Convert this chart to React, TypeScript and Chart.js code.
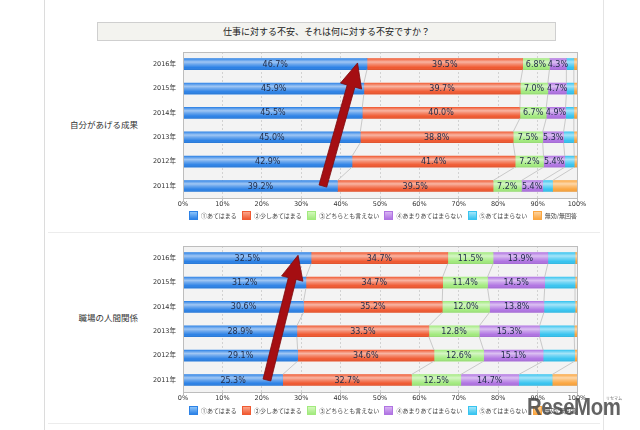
import React, { useEffect, useRef } from 'react';
import { Chart, registerables } from 'chart.js';

Chart.register(...registerables);

// ---------- data ----------
const years = ['2016年', '2015年', '2014年', '2013年', '2012年', '2011年'];
const seriesNames = ['①あてはまる', '②少しあてはまる', '③どちらとも言えない', '④あまりあてはまらない', '⑤あてはまらない', '無効/無回答'];
const seriesColors = ['#2d82e6', '#f05a32', '#a2ea7e', '#b074e2', '#38c4f0', '#fba640'];
const seriesLight = ['#8cc4fa', '#fba58a', '#d4f8bc', '#d8b4f4', '#a4e6fa', '#fdd29c'];
const labeledSeries = [0, 1, 2, 3];

const titleText = '仕事に対する不安、それは何に対する不安ですか？';
const groupTitle1 = '自分があげる成果';
const groupTitle2 = '職場の人間関係';

const seika_atehamaru = [46.7, 45.9, 45.5, 45.0, 42.9, 39.2];
const seika_sukoshi = [39.5, 39.7, 40.0, 38.8, 41.4, 39.5];
const seika_dochira = [6.8, 7.0, 6.7, 7.5, 7.2, 7.2];
const seika_amari = [4.3, 4.7, 4.9, 5.3, 5.4, 5.4];
const seika_atehamaranai = [1.9, 1.9, 2.1, 2.6, 2.4, 2.5];
const seika_mukou = [0.8, 0.8, 0.8, 0.8, 0.7, 6.2];

const ningen_atehamaru = [32.5, 31.2, 30.6, 28.9, 29.1, 25.3];
const ningen_sukoshi = [34.7, 34.7, 35.2, 33.5, 34.6, 32.7];
const ningen_dochira = [11.5, 11.4, 12.0, 12.8, 12.6, 12.5];
const ningen_amari = [13.9, 14.5, 13.8, 15.3, 15.1, 14.7];
const ningen_atehamaranai = [6.9, 7.7, 7.9, 8.8, 8.0, 8.5];
const ningen_mukou = [0.5, 0.5, 0.5, 0.7, 0.6, 6.3];

// arrows: [percent value, category index]
const arrow1From = [35.5, 5];
const arrow1To = [44.3, -0.05];
const arrow2From = [21.3, 5];
const arrow2To = [29.2, -0.12];

const NUM_FONT = '"DejaVu Sans", "Noto Sans CJK JP", sans-serif';
const JP_FONT = '"Noto Sans CJK JP", "DejaVu Sans", sans-serif';

const decorPlugin = {
  id: 'decor',
  beforeDraw(chart: any) {
    const { ctx, chartArea: a } = chart;
    ctx.save();
    ctx.fillStyle = '#f3f3f3';
    ctx.fillRect(a.left, a.top, a.right - a.left, a.bottom - a.top);
    ctx.restore();
  },
  afterDatasetsDraw(chart: any, _args: any, opts: any) {
    const { ctx, chartArea: a } = chart;
    const n = chart.data.datasets.length;
    ctx.save();
    // gloss
    for (let di = 0; di < n; di++) {
      const meta = chart.getDatasetMeta(di);
      meta.data.forEach((el: any) => {
        const { x, y, base, height } = el.getProps(['x', 'y', 'base', 'height'], true);
        const top = y - height / 2;
        const g = ctx.createLinearGradient(0, top, 0, top + height);
        g.addColorStop(0, 'rgba(255,255,255,0.05)');
        g.addColorStop(0.3, 'rgba(255,255,255,0.55)');
        g.addColorStop(0.5, 'rgba(255,255,255,0.3)');
        g.addColorStop(0.8, 'rgba(255,255,255,0)');
        g.addColorStop(1, 'rgba(0,0,0,0.1)');
        ctx.fillStyle = g;
        ctx.fillRect(Math.min(x, base), top, Math.abs(x - base), height);
      });
    }
    // series connecting lines
    ctx.strokeStyle = '#c9c9c9';
    ctx.lineWidth = 1;
    for (let di = 0; di < n - 1; di++) {
      const els = chart.getDatasetMeta(di).data;
      for (let i = 0; i < els.length - 1; i++) {
        const p = els[i].getProps(['x', 'y', 'height'], true);
        const q = els[i + 1].getProps(['x', 'y', 'height'], true);
        ctx.beginPath();
        ctx.moveTo(p.x, p.y + p.height / 2);
        ctx.lineTo(q.x, q.y - q.height / 2);
        ctx.stroke();
      }
    }
    // value labels
    ctx.font = '8px ' + NUM_FONT;
    ctx.fillStyle = '#1f2b48';
    ctx.textAlign = 'center';
    ctx.textBaseline = 'middle';
    labeledSeries.forEach((di) => {
      const ds = chart.data.datasets[di];
      chart.getDatasetMeta(di).data.forEach((el: any, i: number) => {
        const { x, y, base } = el.getProps(['x', 'y', 'base'], true);
        ctx.fillText(ds.data[i].toFixed(1) + '%', (x + base) / 2, y + 0.5);
      });
    });
    // plot border
    ctx.strokeStyle = '#bdbdbd';
    ctx.strokeRect(Math.round(a.left) + 0.5, Math.round(a.top) + 0.5, Math.round(a.right - a.left), Math.round(a.bottom - a.top));
    // arrow
    if (opts && opts.from) {
      const xs = chart.scales.x, ys = chart.scales.y;
      const x0 = xs.getPixelForValue(opts.from[0]), y0 = ys.getPixelForValue(opts.from[1]);
      const x1 = xs.getPixelForValue(opts.to[0]), y1 = ys.getPixelForValue(opts.to[1]);
      const dx = x1 - x0, dy = y1 - y0;
      const len = Math.hypot(dx, dy);
      const ux = dx / len, uy = dy / len;
      const nx = -uy, ny = ux;
      const sw = 4, hw = 11, hl = 24;
      const bx = x1 - ux * hl, by = y1 - uy * hl;
      ctx.beginPath();
      ctx.moveTo(x0 + nx * sw, y0 + ny * sw);
      ctx.lineTo(bx + nx * sw, by + ny * sw);
      ctx.lineTo(bx + nx * hw, by + ny * hw);
      ctx.lineTo(x1, y1);
      ctx.lineTo(bx - nx * hw, by - ny * hw);
      ctx.lineTo(bx - nx * sw, by - ny * sw);
      ctx.lineTo(x0 - nx * sw, y0 - ny * sw);
      ctx.closePath();
      ctx.fillStyle = '#a50e12';
      ctx.fill();
      ctx.strokeStyle = '#7c0a0c';
      ctx.lineWidth = 0.8;
      ctx.stroke();
    }
    ctx.restore();
  },
};

function StackChart({ series, from, to, top }: { series: number[][]; from: number[]; to: number[]; top: number }) {
  const ref = useRef<HTMLCanvasElement>(null);
  useEffect(() => {
    const chart = new Chart(ref.current as HTMLCanvasElement, {
      type: 'bar',
      data: {
        labels: years,
        datasets: series.map((d, i) => ({
          label: seriesNames[i],
          data: d,
          backgroundColor: seriesColors[i],
          borderWidth: 0,
          barThickness: 11,
        })),
      },
      options: {
        indexAxis: 'y',
        responsive: false,
        maintainAspectRatio: false,
        animation: false,
        layout: { padding: { top: 6, right: 23, bottom: 5, left: 0 } },
        plugins: {
          legend: { display: false },
          tooltip: { enabled: false },
          decor: { from, to },
        } as any,
        scales: {
          x: {
            stacked: true,
            min: 0,
            max: 100,
            ticks: {
              stepSize: 10,
              callback: (v: any) => v + '%',
              font: { family: NUM_FONT, size: 6.5 },
              color: '#333',
              padding: -1,
            },
            grid: { color: '#d2d2d2', tickLength: 3, tickColor: '#bbb', tickBorderDash: [] } as any,
            border: { display: false, dash: [2, 2] },
          },
          y: {
            stacked: true,
            ticks: { font: { family: NUM_FONT, size: 6.5 }, color: '#333', padding: 7 },
            grid: { display: false, drawTicks: false },
            border: { display: false },
            afterFit: (s: any) => {
              s.width = 53;
              s.paddingTop = 0;
              s.paddingBottom = 0;
            },
          },
        },
      },
      plugins: [decorPlugin as any],
    });
    return () => chart.destroy();
  }, []);
  return (
    <canvas
      ref={ref}
      width={470}
      height={166}
      style={{ position: 'absolute', left: 130, top, width: 470, height: 166, display: 'block' }}
    />
  );
}

function Legend({ top }: { top: number }) {
  return (
    <div
      style={{
        position: 'absolute', left: 189, top, width: 388, height: 10,
        display: 'flex', justifyContent: 'space-between', alignItems: 'center',
      }}
    >
      {seriesNames.map((name, i) => (
        <div key={name} style={{ display: 'flex', alignItems: 'center' }}>
          <span
            style={{
              display: 'inline-block', width: 9, height: 9, marginRight: 3, boxSizing: 'border-box',
              background: `linear-gradient(to bottom, ${seriesLight[i]}, ${seriesColors[i]})`,
              border: `1px solid ${seriesColors[i]}`,
            }}
          />
          <span style={{ fontFamily: JP_FONT, fontSize: 6, color: '#444', whiteSpace: 'nowrap', lineHeight: '9px' }}>{name}</span>
        </div>
      ))}
    </div>
  );
}

export default function App() {
  return (
    <div style={{ position: 'fixed', left: 0, top: 0, width: 640, height: 430, background: '#fff', overflow: 'hidden' }}>
      {/* frame lines */}
      <div style={{ position: 'absolute', left: 44, top: 0, width: 1, height: 430, background: '#dcdcdc' }} />
      <div style={{ position: 'absolute', left: 603, top: 0, width: 1, height: 430, background: '#e4e4e4' }} />
      <div style={{ position: 'absolute', left: 48, top: 232, width: 552, height: 1, background: '#ececec' }} />
      <div style={{ position: 'absolute', left: 48, top: 423, width: 552, height: 1, background: '#ececec' }} />

      {/* title */}
      <div
        style={{
          position: 'absolute', left: 97, top: 22, width: 459, height: 19, boxSizing: 'border-box',
          border: '1px solid #cfcfcf', background: '#f3f3ef', textAlign: 'center',
          fontFamily: JP_FONT, fontSize: 9, fontWeight: 'normal', color: '#222', lineHeight: '17px',
        }}
      >
        {titleText}
      </div>

      {/* group titles */}
      <div style={{ position: 'absolute', right: 502, top: 118, fontFamily: JP_FONT, fontSize: 8.5, color: '#333', lineHeight: '12px', whiteSpace: 'nowrap' }}>
        {groupTitle1}
      </div>
      <div style={{ position: 'absolute', right: 502, top: 311, fontFamily: JP_FONT, fontSize: 8.5, color: '#333', lineHeight: '12px', whiteSpace: 'nowrap' }}>
        {groupTitle2}
      </div>

      <StackChart
        top={46}
        series={[seika_atehamaru, seika_sukoshi, seika_dochira, seika_amari, seika_atehamaranai, seika_mukou]}
        from={arrow1From}
        to={arrow1To}
      />
      <Legend top={210} />

      <StackChart
        top={240}
        series={[ningen_atehamaru, ningen_sukoshi, ningen_dochira, ningen_amari, ningen_atehamaranai, ningen_mukou]}
        from={arrow2From}
        to={arrow2To}
      />
      <Legend top={405} />

      {/* watermark */}
      <div
        style={{
          position: 'absolute', left: 527, top: 395, fontFamily: '"Liberation Sans", Arial, sans-serif',
          fontWeight: 'bold', fontSize: 24, lineHeight: '24px', color: 'rgba(72,72,72,0.85)',
          transform: 'scaleX(0.85)', transformOrigin: 'left top', whiteSpace: 'nowrap', letterSpacing: -0.5,
        }}
      >
        ReseMom
      </div>
      <div style={{ position: 'absolute', left: 606, top: 395, fontFamily: JP_FONT, fontSize: 4, color: 'rgba(72,72,72,0.8)', whiteSpace: 'nowrap' }}>
        リセマム
      </div>
    </div>
  );
}
